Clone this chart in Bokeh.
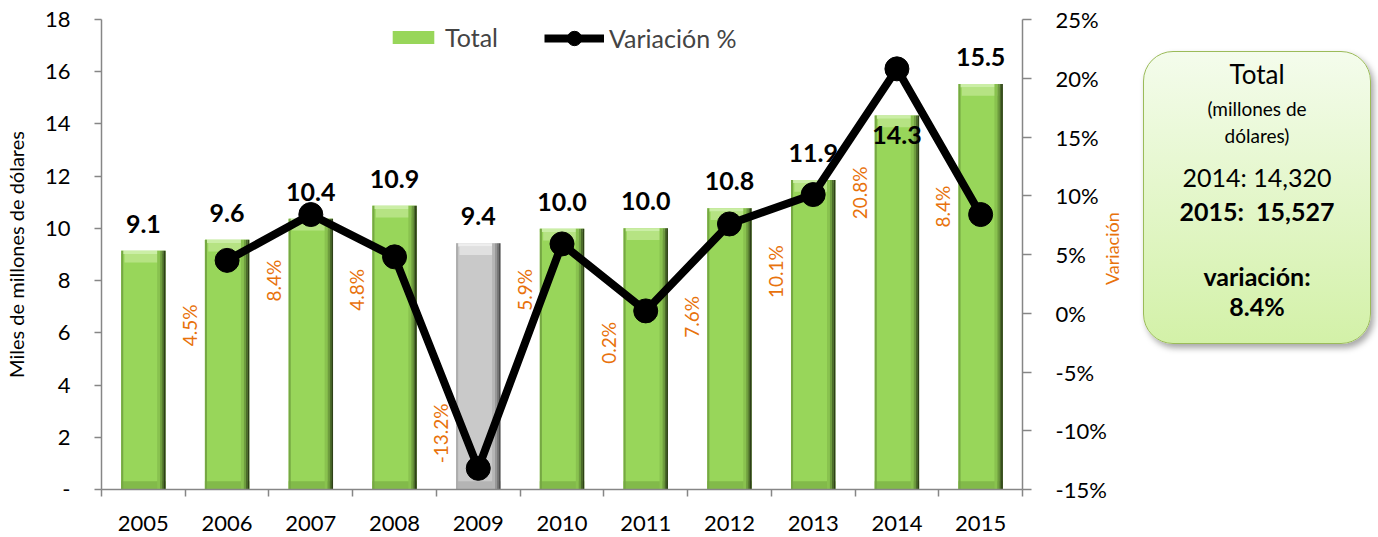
import math
from bokeh.plotting import figure
from bokeh.models import (Range1d, LinearAxis, FixedTicker, PrintfTickFormatter,
                          CustomJSTickFormatter, ColumnDataSource, Legend, LegendItem, Div)
from bokeh.layouts import row
from bokeh.transform import dodge
from bokeh.core.properties import value
from bokeh.embed import file_html
from bokeh.resources import INLINE

# ---------------- data ----------------
years = ["2005", "2006", "2007", "2008", "2009", "2010",
         "2011", "2012", "2013", "2014", "2015"]
totals = [9.14, 9.563, 10.367, 10.864, 9.430, 9.986,
          10.006, 10.767, 11.854, 14.320, 15.527]          # miles de millones
variation = [None, 4.5, 8.4, 4.8, -13.2, 5.9, 0.2, 7.6, 10.1, 20.8, 8.4]  # %
left_ticks = [0, 2, 4, 6, 8, 10, 12, 14, 16, 18]
right_ticks = [-15, -10, -5, 0, 5, 10, 15, 20, 25]

# ---------------- style ----------------
FONT = "Lato"
ORANGE = "#E8720C"
AXIS_GRAY = "#868686"
# label nudges (screen px, positive = down)
bar_label_dy = [-27, -27, -27, -27, -27, -27, -27, -27, -27, 19, -27]
var_label_dy = [None, 65, 66, 33, -35, 46, 32, 93, 77, 124, -8]
RIGHT_TITLE_START = 2.4   # where the rotated right-axis title begins (in % units)

xs = list(range(len(years)))
decline = [v is not None and v < 0 for v in variation]
G = dict(base="#98D65A", left="#76A843", top="#B6E383", topedge="#CBEEA6",
         bottom="#82BA4A", s=["#89C24F", "#6E9D3E", "#4B6B2A", "#2E4019"])
S = dict(base="#C9C9C9", left="#ADADAD", top="#E0E0E0", topedge="#EEEEEE",
         bottom="#B4B4B4", s=["#B5B5B5", "#979797", "#707070", "#4F4F4F"])
pal = [S if d else G for d in decline]

bars = ColumnDataSource(dict(
    x=xs, top=totals,
    label=[f"{t:.1f}" for t in totals],
    ldy=bar_label_dy,
    c_base=[p["base"] for p in pal], c_left=[p["left"] for p in pal],
    c_top=[p["top"] for p in pal], c_topedge=[p["topedge"] for p in pal],
    c_bottom=[p["bottom"] for p in pal],
    c_s0=[p["s"][0] for p in pal], c_s1=[p["s"][1] for p in pal],
    c_s2=[p["s"][2] for p in pal], c_s3=[p["s"][3] for p in pal],
))

vidx = [i for i, v in enumerate(variation) if v is not None]
var_src = ColumnDataSource(dict(
    x=vidx, var=[variation[i] for i in vidx],
    vlabel=[f"{variation[i]:.1f}%" for i in vidx],
    vdy=[var_label_dy[i] for i in vidx],
))

# ---------------- figure ----------------
p = figure(width=1138, height=535, x_range=Range1d(-0.5, 10.5), y_range=Range1d(0, 18),
           output_backend="svg", toolbar_location=None,
           min_border_left=100, min_border_right=116, min_border_top=19, min_border_bottom=46)
p.extra_y_ranges = {"var": Range1d(-15, 25)}
p.xgrid.visible = False
p.ygrid.visible = False
p.outline_line_color = None
p.background_fill_color = "white"
p.border_fill_color = "white"

W = 0.53
base_r = p.vbar(x="x", top="top", bottom=0, width=W, source=bars,
                fill_color="c_base", line_color=None)
p.vbar(x="x", top=dodge("top", -0.45), bottom=dodge("top", -0.12), width=W - 0.08,
       source=bars, fill_color="c_top", line_color=None)
p.vbar(x="x", top="top", bottom=dodge("top", -0.12), width=W,
       source=bars, fill_color="c_topedge", line_color=None)
p.vbar(x="x", top=0.32, bottom=0, width=W, source=bars, fill_color="c_bottom",
       line_color=None)
p.vbar(x=dodge("x", -0.2525), top="top", bottom=0, width=0.025, source=bars,
       fill_color="c_left", line_color=None)
for off, w, col in [(0.1825, 0.035, "c_s0"), (0.2125, 0.025, "c_s1"),
                    (0.235, 0.02, "c_s2"), (0.255, 0.021, "c_s3")]:
    p.vbar(x=dodge("x", off), top="top", bottom=0, width=w, source=bars,
           fill_color=col, line_color=None)

line_r = p.line(x="x", y="var", source=var_src, y_range_name="var",
                line_color="black", line_width=8, line_join="round")
circ_r = p.scatter(x="x", y="var", source=var_src, y_range_name="var",
                   marker="circle", size=24, fill_color="black", line_color="black")

p.text(x="x", y="top", text="label", source=bars, y_offset="ldy",
       text_font=value(FONT), text_font_style="bold", text_font_size="25px",
       text_align="center", text_baseline="middle", text_color="black")
p.text(x=dodge("x", -0.45), y="var", text="vlabel", source=var_src, y_range_name="var",
       y_offset="vdy", angle=math.pi / 2,
       text_font=value(FONT), text_font_size="19px", text_color=ORANGE,
       text_align="center", text_baseline="middle")

# axes
xa = p.xaxis[0]
xa.ticker = FixedTicker(ticks=xs, minor_ticks=[i - 0.5 for i in range(len(years) + 1)])
xa.major_label_overrides = {i: y for i, y in enumerate(years)}
xa.major_tick_out = 0
xa.major_tick_in = 0
xa.minor_tick_out = 7
xa.minor_tick_in = 0
xa.major_label_standoff = 19

ya = p.yaxis[0]
ya.ticker = FixedTicker(ticks=left_ticks)
ya.major_label_overrides = {0: "-"}
ya.major_tick_out = 7
ya.major_tick_in = 0
ya.minor_tick_out = 0
ya.minor_tick_in = 0
ya.major_label_standoff = 24
ya.axis_label = "Miles de millones de dólares"
ya.axis_label_standoff = 14
ya.axis_label_text_font_size = "20px"
ya.axis_label_text_font_style = "normal"
ya.axis_label_text_color = "black"

ra = LinearAxis(y_range_name="var", ticker=FixedTicker(ticks=right_ticks),
                formatter=PrintfTickFormatter(format="%d%%"))
ra.major_tick_out = 9
ra.major_tick_in = 0
ra.minor_tick_out = 0
ra.minor_tick_in = 0
ra.major_label_standoff = 24
p.add_layout(ra, "right")

for ax in (xa, ya, ra):
    ax.axis_line_color = AXIS_GRAY
    ax.axis_line_width = 1.5
    ax.major_tick_line_color = AXIS_GRAY
    ax.major_tick_line_width = 1.5
    ax.minor_tick_line_color = AXIS_GRAY
    ax.minor_tick_line_width = 1.5
    ax.major_label_text_font = FONT
    ax.major_label_text_font_size = "22px"
    ax.major_label_text_color = "black"
    ax.axis_label_text_font = FONT

# right-axis title "Variación" (reads bottom-to-top) drawn as the single label of an
# unlined helper axis stacked outside the percentage axis
ra2 = LinearAxis(y_range_name="var", ticker=FixedTicker(ticks=[RIGHT_TITLE_START]),
                 formatter=CustomJSTickFormatter(code="return 'Variación'"))
ra2.axis_line_color = None
ra2.major_tick_line_color = None
ra2.minor_tick_line_color = None
ra2.major_tick_out = 0
ra2.major_tick_in = 0
ra2.minor_tick_out = 0
ra2.minor_tick_in = 0
ra2.major_label_standoff = 3
ra2.major_label_orientation = math.pi / 2
ra2.major_label_text_font = FONT
ra2.major_label_text_font_size = "18px"
ra2.major_label_text_color = ORANGE
p.add_layout(ra2, "right")

legend1 = Legend(items=[LegendItem(label="Total", renderers=[base_r])],
                 orientation="horizontal", location=(286, 437),
                 glyph_width=52, glyph_height=16, label_standoff=6,
                 padding=0, margin=0, border_line_color=None, background_fill_alpha=0,
                 label_text_font=FONT, label_text_font_size="25px")
legend2 = Legend(items=[LegendItem(label="Variación %", renderers=[line_r, circ_r])],
                 orientation="horizontal", location=(443, 433),
                 glyph_width=60, glyph_height=36, label_standoff=5,
                 padding=0, margin=0, border_line_color=None, background_fill_alpha=0,
                 label_text_font=FONT, label_text_font_size="25px")
p.add_layout(legend1)
p.add_layout(legend2)

# ---------------- summary box ----------------
lines = [
    ("Total", 23, "26px", "normal", 32),
    ("(millones de", 58, "19px", "normal", 24),
    ("dólares)", 85, "19px", "normal", 24),
    ("2014: 14,320", 126, "25px", "normal", 30),
    ("2015:&nbsp; 15,527", 160, "25px", "bold", 30),
    ("variación:", 225, "25px", "bold", 30),
    ("8.4%", 255, "25px", "bold", 30),
]
inner = "".join(
    f'<div style="position:absolute;left:0;width:100%;top:{c - lh / 2 - 1.5}px;'
    f'line-height:{lh}px;font-size:{fs};font-weight:{fw};text-align:center;">{t}</div>'
    for t, c, fs, fw, lh in lines)
box_html = (f'<div style="position:relative;margin-top:46px;width:228px;height:293px;'
            f'border:1.5px solid #9BBB59;border-radius:30px;'
            f'background:linear-gradient(to bottom,#F4FCEC,#D3F1A8);'
            f'box-shadow:3px 4px 6px rgba(0,0,0,0.35);font-family:{FONT};color:#000;">'
            f'{inner}</div>')
box = Div(text=box_html, width=232, height=360)

layout = row(p, box)
open("out.html", "w").write(file_html(layout, INLINE))
